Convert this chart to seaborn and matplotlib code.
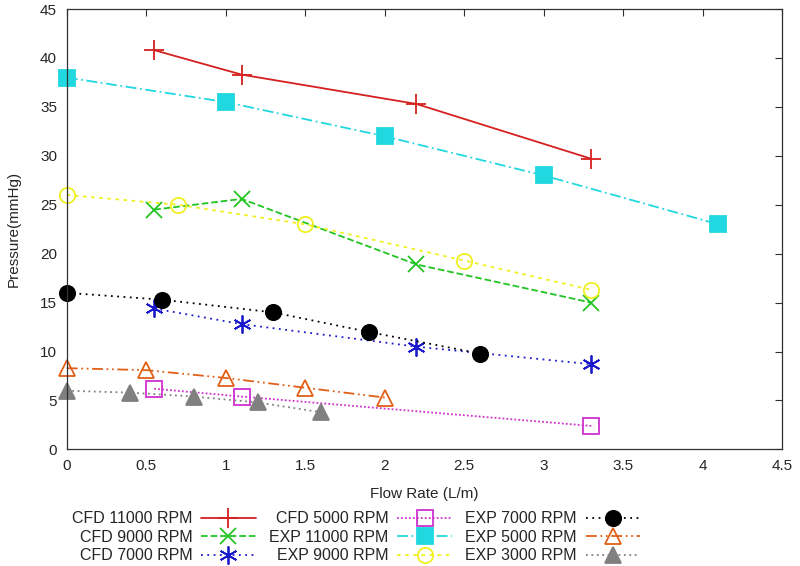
import matplotlib
matplotlib.use("Agg")
import matplotlib.pyplot as plt
import pandas as pd
import seaborn as sns

# CFD series (flow rate L/m, pressure mmHg)
cfd_flow = [0.55, 1.1, 2.2, 3.3]
cfd_11000 = [40.8, 38.3, 35.3, 29.7]
cfd_9000 = [24.5, 25.6, 18.9, 15.0]
cfd_7000 = [14.4, 12.8, 10.5, 8.7]
cfd_5000_flow = [0.55, 1.1, 3.3]
cfd_5000 = [6.2, 5.4, 2.4]

# experimental series
exp_11000_flow = [0.0, 1.0, 2.0, 3.0, 4.1]
exp_11000 = [38.0, 35.5, 32.0, 28.0, 23.0]
exp_9000_flow = [0.0, 0.7, 1.5, 2.5, 3.3]
exp_9000 = [26.0, 25.0, 23.0, 19.3, 16.3]
exp_7000_flow = [0.0, 0.6, 1.3, 1.9, 2.6]
exp_7000 = [16.0, 15.3, 14.0, 12.0, 9.8]
exp_5000_flow = [0.0, 0.5, 1.0, 1.5, 2.0]
exp_5000 = [8.3, 8.1, 7.3, 6.3, 5.3]
exp_3000_flow = [0.0, 0.4, 0.8, 1.2, 1.6]
exp_3000 = [6.0, 5.8, 5.4, 4.8, 3.8]

series = [
    ("CFD 11000 RPM", cfd_flow, cfd_11000, "#d62020", "-", "+", "none"),
    ("CFD 9000 RPM", cfd_flow, cfd_9000, "#22c422", "--", "x", "none"),
    ("CFD 7000 RPM", cfd_flow, cfd_7000, "#1a1acc", (0, (1, 2.5)), (6, 2, 0), "none"),
    ("CFD 5000 RPM", cfd_5000_flow, cfd_5000, "#d030d0", (0, (1, 1.2)), "s", "none"),
    ("EXP 11000 RPM", exp_11000_flow, exp_11000, "#22d8e0", (0, (6, 2, 1, 2)), "s", "fill"),
    ("EXP 9000 RPM", exp_9000_flow, exp_9000, "#f0f020", (0, (2, 2.5)), "o", "none"),
    ("EXP 7000 RPM", exp_7000_flow, exp_7000, "black", (0, (1, 2.5)), "o", "fill"),
    ("EXP 5000 RPM", exp_5000_flow, exp_5000, "#e06018", (0, (6, 2, 1, 2, 1, 2)), "^", "none"),
    ("EXP 3000 RPM", exp_3000_flow, exp_3000, "#808080", (0, (1, 2)), "^", "fill"),
]

sns.set_style("white")
plt.rcParams["font.family"] = ["Liberation Sans", "DejaVu Sans"]

fig = plt.figure(figsize=(8, 5.66), dpi=100)
ax = fig.add_axes([0.0835, 0.206, 0.894, 0.778])

sizes = {"+": 14, "x": 12, "o": 11, "s": 11, "^": 11}
for label, xs, ys, color, ls, marker, fill in series:
    df = pd.DataFrame({"flow": xs, "pressure": ys})
    sns.lineplot(
        data=df, x="flow", y="pressure", ax=ax, label=label,
        color=color, linestyle=ls, linewidth=1.3,
        marker=marker, markersize=sizes.get(marker, 13),
        markerfacecolor=color if fill == "fill" else "none",
        markeredgecolor=color, markeredgewidth=1.3, clip_on=False,
    )

ax.set_xlim(0, 4.5)
ax.set_ylim(0, 45)
ax.set_xticks([0, 0.5, 1, 1.5, 2, 2.5, 3, 3.5, 4, 4.5])
ax.set_xticklabels(["0", "0.5", "1", "1.5", "2", "2.5", "3", "3.5", "4", "4.5"])
ax.set_yticks(range(0, 50, 5))
ax.tick_params(direction="in", length=5, top=True, right=True, labelsize=11,
               color="#303030", width=0.8, pad=7)
for sp in ax.spines.values():
    sp.set_color("#303030")
    sp.set_linewidth(0.9)

ax.set_xlabel("Flow Rate (L/m)", fontsize=11, labelpad=10)
ax.set_ylabel("Pressure(mmHg)", fontsize=11, labelpad=14)

handles, labels = ax.get_legend_handles_labels()
ax.legend(handles, labels, ncol=3, loc="center", bbox_to_anchor=(0.445, 0.051),
          bbox_transform=fig.transFigure, borderpad=0,
          frameon=False, markerfirst=False, handlelength=3.4, fontsize=11.5,
          labelspacing=0.22, columnspacing=0.85, handletextpad=0.55)

fig.savefig("out.png", dpi=100)
